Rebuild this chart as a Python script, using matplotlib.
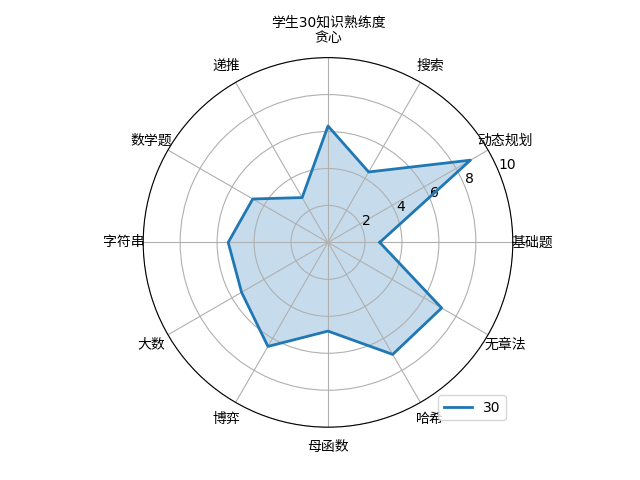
import numpy as np
import matplotlib
matplotlib.use('Agg')
import matplotlib.pyplot as plt

plt.rcParams['font.family'] = ['DejaVu Sans', 'Noto Sans CJK SC']
plt.rcParams['axes.unicode_minus'] = False

# categories and scores for student 30
labels = ['基础题', '动态规划', '搜索', '贪心', '递推', '数学题',
          '字符串', '大数', '博弈', '母函数', '哈希', '无章法']
scores = [2.8, 8.9, 4.4, 6.3, 2.8, 4.7, 5.4, 5.4, 6.5, 4.8, 7.0, 7.1]
student = '30'

angles = np.linspace(0, 2 * np.pi, len(labels), endpoint=False)
values = np.concatenate((scores, [scores[0]]))
angles_c = np.concatenate((angles, [angles[0]]))

fig = plt.figure(figsize=(6.4, 4.8), dpi=100)
ax = fig.add_subplot(111, polar=True)
ax.plot(angles_c, values, '-', linewidth=2, label=student)
ax.fill(angles_c, values, alpha=0.25)
ax.set_thetagrids(angles * 180 / np.pi, labels)
ax.set_ylim(0, 10)
ax.set_rgrids([2, 4, 6, 8, 10])
ax.set_title('学生' + student + '知识熟练度', fontsize=10, pad=3.5)
ax.grid(True)
plt.legend(loc='lower right')
plt.savefig('out.png', dpi=100)
